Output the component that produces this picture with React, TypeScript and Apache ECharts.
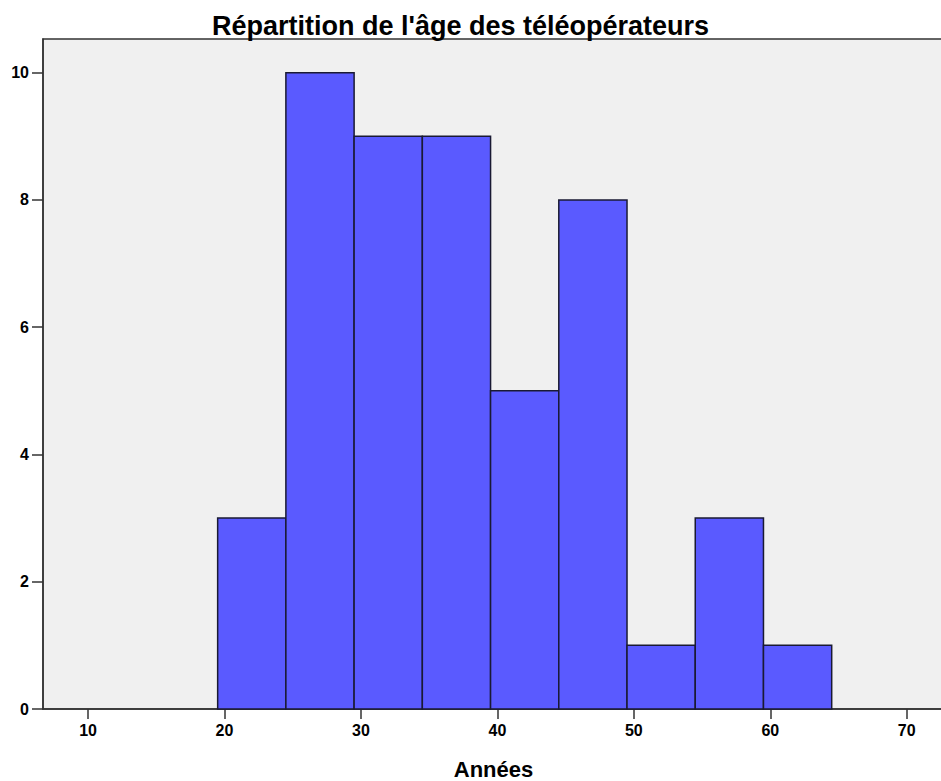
import React, { useEffect, useRef } from "react";
import * as echarts from "echarts";

const binStarts = [19.5, 24.5, 29.5, 34.5, 39.5, 44.5, 49.5, 54.5, 59.5];
const binWidth = 5;
const counts = [3, 10, 9, 9, 5, 8, 1, 3, 1];
const xTicks = [10, 20, 30, 40, 50, 60, 70];
const title = "Répartition de l'âge des téléopérateurs";
const xName = "Années";

export default function App() {
  const ref = useRef<HTMLDivElement>(null);
  useEffect(() => {
    document.body.style.margin = "0";
    const chart = echarts.init(ref.current!, undefined, { renderer: "svg" });
    const data = binStarts.map((s, i) => [s, s + binWidth, counts[i]]);
    chart.setOption({
      animation: false,
      backgroundColor: "#ffffff",
      title: {
        text: title,
        left: 455.5,
        top: 7,
        textAlign: "center",
        textStyle: { fontFamily: "Liberation Sans", fontWeight: "bold", fontSize: 27, color: "#000" },
      },
      grid: {
        left: 43,
        top: 39,
        right: -3,
        bottom: 72,
        outerBoundsMode: "none",
        containLabel: false,
        show: true,
        backgroundColor: "#F0F0F0",
        borderColor: "#333",
        borderWidth: 1.5,
      },
      xAxis: {
        type: "value",
        min: 6.7,
        max: 72.73,
        name: xName,
        nameLocation: "middle",
        nameGap: 49,
        nameTextStyle: { fontFamily: "Liberation Sans", fontWeight: "bold", fontSize: 22, color: "#000" },
        axisLine: { show: true, lineStyle: { color: "#333", width: 1.5 } },
        axisTick: { show: true, length: 10, customValues: xTicks, lineStyle: { color: "#333", width: 1.5 } },
        axisLabel: {
          customValues: xTicks,
          fontFamily: "Liberation Sans",
          fontWeight: "bold",
          fontSize: 16,
          color: "#000",
          margin: 13,
        },
        splitLine: { show: false },
      },
      yAxis: {
        type: "value",
        min: 0,
        max: 10.53,
        interval: 2,
        axisLine: { show: true, lineStyle: { color: "#333", width: 1.5 } },
        axisTick: { show: true, length: 11, lineStyle: { color: "#333", width: 1.5 } },
        axisLabel: {
          showMaxLabel: false,
          fontFamily: "Liberation Sans",
          fontWeight: "bold",
          fontSize: 16,
          color: "#000",
          margin: 14,
        },
        splitLine: { show: false },
      },
      series: [
        {
          type: "custom",
          data,
          encode: { x: [0, 1], y: 2 },
          renderItem: (params: any, api: any) => {
            const p0 = api.coord([api.value(0), api.value(2)]);
            const p1 = api.coord([api.value(1), 0]);
            return {
              type: "rect",
              shape: { x: p0[0], y: p0[1], width: p1[0] - p0[0], height: p1[1] - p0[1] },
              style: { fill: "#5A5AFF", stroke: "#1a1a33", lineWidth: 1.5 },
            };
          },
        },
      ],
    });
    return () => chart.dispose();
  }, []);
  return <div ref={ref} style={{ width: 941, height: 781 }} />;
}
